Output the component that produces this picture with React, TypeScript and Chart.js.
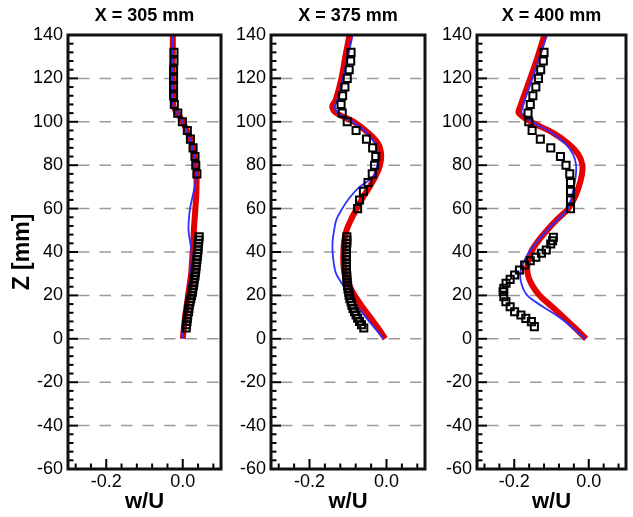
import React, { useEffect, useRef } from "react";
import { Chart, registerables } from "chart.js";

Chart.register(...registerables);

const FONT = "'Liberation Sans', Arial, Helvetica, sans-serif";

// ---------- data ----------
const titles = ["X = 305 mm", "X = 375 mm", "X = 400 mm"];

const lineZ = [140, 130, 120, 110, 107, 104, 100, 95, 90, 85, 80, 75, 70, 65, 60, 55, 50, 45, 40, 35, 30, 25, 20, 15, 10, 5, 0];

const red305 = [-0.026, -0.026, -0.026, -0.025, -0.024, -0.014, 0.0, 0.013, 0.024, 0.030, 0.034, 0.036, 0.036, 0.035, 0.033, 0.031, 0.029, 0.028, 0.026, 0.024, 0.022, 0.018, 0.014, 0.010, 0.006, 0.003, 0.0];
const blue305 = [-0.027, -0.027, -0.027, -0.026, -0.024, -0.014, -0.001, 0.012, 0.023, 0.029, 0.033, 0.035, 0.031, 0.025, 0.019, 0.016, 0.015, 0.019, 0.023, 0.023, 0.021, 0.017, 0.013, 0.009, 0.005, 0.002, -0.001];

const red375 = [-0.096, -0.107, -0.117, -0.132, -0.141, -0.130, -0.085, -0.048, -0.022, -0.014, -0.017, -0.028, -0.044, -0.062, -0.077, -0.092, -0.104, -0.110, -0.112, -0.112, -0.109, -0.098, -0.083, -0.064, -0.043, -0.022, -0.003];
const blue375 = [-0.088, -0.100, -0.113, -0.128, -0.134, -0.126, -0.088, -0.052, -0.030, -0.022, -0.024, -0.033, -0.070, -0.096, -0.115, -0.130, -0.136, -0.140, -0.140, -0.137, -0.131, -0.114, -0.096, -0.076, -0.054, -0.031, -0.007];

const red400 = [-0.119, -0.137, -0.157, -0.178, -0.184, -0.188, -0.155, -0.097, -0.055, -0.028, -0.017, -0.019, -0.027, -0.038, -0.055, -0.085, -0.112, -0.136, -0.155, -0.164, -0.164, -0.153, -0.132, -0.100, -0.068, -0.037, -0.007];
const blue400 = [-0.112, -0.132, -0.152, -0.172, -0.177, -0.180, -0.152, -0.100, -0.063, -0.042, -0.034, -0.035, -0.040, -0.046, -0.056, -0.083, -0.112, -0.138, -0.160, -0.176, -0.184, -0.180, -0.165, -0.125, -0.080, -0.042, -0.010];

// experimental squares
const sqZUpper305 = [132, 128, 124, 120, 116, 112, 108, 104, 100, 96, 92, 88, 84, 80, 76];
const sqWUpper305 = [-0.023, -0.023, -0.024, -0.024, -0.024, -0.024, -0.022, -0.013, -0.001, 0.012, 0.020, 0.027, 0.032, 0.034, 0.037];

const sqZLower = [47, 45.5, 44, 42.5, 41, 39.5, 38, 36.5, 35, 33.5, 32, 30.5, 29, 27.5, 26, 24.5, 23, 21.5, 20, 18.5, 17, 15.5, 14, 12.5, 11, 9.5, 8, 6.5, 5];
const sqWLower305 = [0.043, 0.042, 0.041, 0.040, 0.040, 0.039, 0.038, 0.037, 0.036, 0.035, 0.034, 0.033, 0.032, 0.030, 0.029, 0.028, 0.026, 0.025, 0.023, 0.021, 0.019, 0.017, 0.016, 0.015, 0.013, 0.012, 0.011, 0.010, 0.009];

const sqZUpper = [132, 128, 124, 120, 116, 112, 108, 104, 100, 96, 92, 88, 84, 80, 76, 72, 68, 64, 60];
const sqWUpper375 = [-0.092, -0.093, -0.097, -0.102, -0.108, -0.114, -0.118, -0.115, -0.102, -0.079, -0.052, -0.036, -0.028, -0.031, -0.037, -0.048, -0.060, -0.070, -0.075];
const sqWLower375 = [-0.103, -0.103, -0.103, -0.104, -0.104, -0.104, -0.104, -0.104, -0.104, -0.104, -0.104, -0.104, -0.103, -0.103, -0.102, -0.101, -0.100, -0.098, -0.097, -0.095, -0.092, -0.090, -0.087, -0.083, -0.079, -0.075, -0.070, -0.065, -0.059];

const sqWUpper400 = [-0.120, -0.122, -0.129, -0.135, -0.142, -0.150, -0.157, -0.163, -0.161, -0.152, -0.130, -0.102, -0.076, -0.061, -0.051, -0.049, -0.049, -0.049, -0.049];
const sqZLower400 = [46.8, 45.2, 43.7, 40.9, 39.4, 37.6, 36.0, 34.0, 31.7, 29.4, 27.4, 25.6, 23.3, 21.7, 19.4, 17.1, 14.8, 12.5, 11.0, 9.4, 7.9, 5.6];
const sqWLower400 = [-0.095, -0.097, -0.102, -0.114, -0.127, -0.142, -0.157, -0.172, -0.186, -0.199, -0.211, -0.222, -0.228, -0.230, -0.228, -0.2225, -0.211, -0.199, -0.182, -0.169, -0.154, -0.146];

// axis ticks
const xTickVals = [-0.2, 0.0];
const xMinorVals = [-0.28, -0.24, -0.16, -0.12, -0.08, -0.04, 0.04, 0.08];
const yTickVals = [-60, -40, -20, 0, 20, 40, 60, 80, 100, 120, 140];
const gridZ = [-40, -20, 0, 20, 40, 60, 80, 100, 120];

// ---------- helpers ----------
const pts = (w: number[], z: number[]) => w.map((v, i) => ({ x: v, y: z[i] }));

const framePlugin = {
  id: "frame",
  beforeDatasetsDraw(chart: any) {
    const { ctx, chartArea: a, scales } = chart;
    const y = scales.y;
    ctx.save();
    ctx.strokeStyle = "#9a9a9a";
    ctx.lineWidth = 1.5;
    ctx.setLineDash([11.5, 10]);
    ctx.lineDashOffset = 11.5;
    gridZ.forEach((v) => {
      const py = y.getPixelForValue(v);
      ctx.beginPath();
      ctx.moveTo(a.left, py);
      ctx.lineTo(a.right, py);
      ctx.stroke();
    });
    ctx.restore();
  },
  afterDatasetsDraw(chart: any) {
    const { ctx, chartArea: a, scales } = chart;
    const x = scales.x;
    const y = scales.y;
    ctx.save();
    ctx.setLineDash([]);
    ctx.strokeStyle = "#000";
    ctx.lineWidth = 2;
    for (let v = -60; v <= 140; v += 4) {
      const major = v % 20 === 0;
      const py = y.getPixelForValue(v);
      ctx.beginPath();
      ctx.moveTo(a.left, py);
      ctx.lineTo(a.left + (major ? 10 : 5.5), py);
      ctx.stroke();
    }
    xTickVals.forEach((v) => {
      const px = x.getPixelForValue(v);
      ctx.beginPath();
      ctx.moveTo(px, a.bottom);
      ctx.lineTo(px, a.bottom - 10);
      ctx.stroke();
    });
    xMinorVals.forEach((v) => {
      const px = x.getPixelForValue(v);
      ctx.beginPath();
      ctx.moveTo(px, a.bottom);
      ctx.lineTo(px, a.bottom - 5.5);
      ctx.stroke();
    });
    ctx.lineWidth = 3;
    ctx.strokeStyle = "#111";
    ctx.strokeRect(a.left, a.top, a.right - a.left, a.bottom - a.top);
    ctx.restore();
  },
};

type PanelDef = {
  title: string;
  left: number;
  width: number;
  yAxisWidth: number;
  padRight: number;
  showYTitle: boolean;
  red: number[];
  blue: number[];
  squares: { x: number; y: number }[];
};

const panels: PanelDef[] = [
  {
    title: titles[0], left: 0, width: 228, yAxisWidth: 68, padRight: 4, showYTitle: true,
    red: red305, blue: blue305,
    squares: [...pts(sqWUpper305, sqZUpper305), ...pts(sqWLower305, sqZLower)],
  },
  {
    title: titles[1], left: 228, width: 204, yAxisWidth: 43, padRight: 4, showYTitle: false,
    red: red375, blue: blue375,
    squares: [...pts(sqWUpper375, sqZUpper), ...pts(sqWLower375, sqZLower)],
  },
  {
    title: titles[2], left: 432, width: 201, yAxisWidth: 45, padRight: 0, showYTitle: false,
    red: red400, blue: blue400,
    squares: [...pts(sqWUpper400, sqZUpper), ...pts(sqWLower400, sqZLower400)],
  },
];

const HEIGHT = 517;

function Panel({ p }: { p: PanelDef }) {
  const ref = useRef<HTMLCanvasElement | null>(null);
  useEffect(() => {
    if (!ref.current) return;
    const chart = new Chart(ref.current, {
      type: "scatter",
      data: {
        datasets: [
          {
            label: "exp",
            data: p.squares,
            showLine: false,
            pointStyle: "rect",
            pointRadius: 5,
            pointBorderWidth: 2,
            pointBorderColor: "#000",
            pointBackgroundColor: "rgba(0,0,0,0)",
            order: 0,
          } as any,
          {
            label: "blue",
            data: pts(p.blue, lineZ),
            showLine: true,
            borderColor: "#2f2fff",
            borderWidth: 1.8,
            pointRadius: 0,
            tension: 0.35,
            order: 1,
          } as any,
          {
            label: "red",
            data: pts(p.red, lineZ),
            showLine: true,
            borderColor: "#e40000",
            borderWidth: 6,
            pointRadius: 0,
            tension: 0.35,
            order: 2,
          } as any,
        ],
      },
      options: {
        animation: false,
        responsive: false,
        devicePixelRatio: 1,
        layout: { padding: { left: 0, right: p.padRight, top: 0, bottom: 0 } },
        plugins: {
          legend: { display: false },
          tooltip: { enabled: false },
          title: {
            display: true,
            text: p.title,
            fullSize: false,
            color: "#000",
            font: { family: FONT, size: 18, weight: "bold", lineHeight: 1.2 },
            padding: { top: 5, bottom: 8.4 },
          },
        },
        scales: {
          x: {
            type: "linear",
            min: -0.3,
            max: 0.1,
            afterBuildTicks: (s: any) => {
              s.ticks = xTickVals.map((v) => ({ value: v }));
            },
            afterFit: (s: any) => {
              s.height = 48;
            },
            grid: { display: false, drawTicks: false },
            border: { display: false },
            ticks: {
              padding: 2,
              color: "#000",
              autoSkip: false,
              maxRotation: 0,
              font: { family: FONT, size: 18, lineHeight: 1.2 },
              callback: (v: any) => Number(v).toFixed(1),
            },
            title: {
              display: true,
              text: "w/U",
              color: "#000",
              font: { family: FONT, size: 22, weight: "bold", lineHeight: 1.2 },
              padding: { top: 0, bottom: 2 },
            },
          },
          y: {
            type: "linear",
            min: -60,
            max: 140,
            afterBuildTicks: (s: any) => {
              s.ticks = yTickVals.map((v) => ({ value: v }));
            },
            afterFit: (s: any) => {
              s.width = p.yAxisWidth;
            },
            grid: { display: false, drawTicks: false },
            border: { display: false },
            ticks: {
              padding: 5,
              color: "#000",
              autoSkip: false,
              font: { family: FONT, size: 18, lineHeight: 1.2 },
              callback: (v: any) => String(v),
            },
            title: {
              display: p.showYTitle,
              text: "Z [mm]",
              color: "#000",
              font: { family: FONT, size: 23, weight: "bold", lineHeight: 1.2 },
              padding: { top: 9, bottom: 0 },
            },
          },
        },
      } as any,
      plugins: [framePlugin],
    });
    return () => chart.destroy();
  }, [p]);
  return (
    <canvas
      ref={ref}
      width={p.width}
      height={HEIGHT}
      style={{ position: "absolute", left: p.left, top: 0, width: p.width, height: HEIGHT }}
    />
  );
}

export default function App() {
  return (
    <div
      style={{
        position: "absolute",
        left: 0,
        top: 0,
        width: 633,
        height: HEIGHT,
        background: "#fff",
        overflow: "hidden",
      }}
    >
      {panels.map((p) => (
        <Panel key={p.title} p={p} />
      ))}
    </div>
  );
}
